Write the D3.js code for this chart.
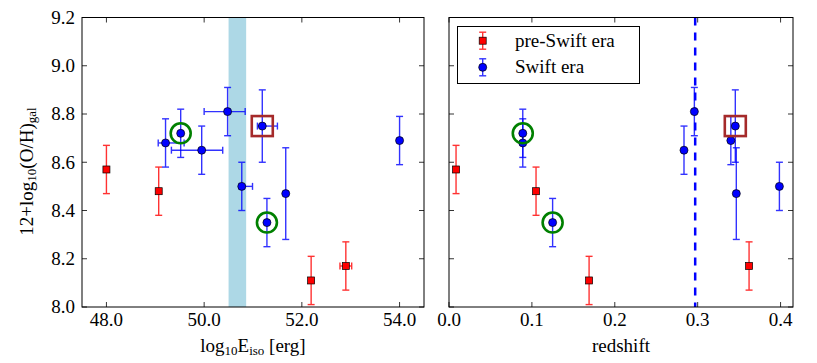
<!DOCTYPE html>
<html>
<head>
<meta charset="utf-8">
<script src="https://cdn.jsdelivr.net/npm/d3@7"></script>
<style>
  body { margin: 0; background: #fff; }
</style>
</head>
<body>
<svg id="chart" width="817" height="363" font-family="'Liberation Serif', serif"></svg>
<script>
// pre-Swift era GRBs
var preEiso = [48.0, 49.07, 52.19, 52.9];
var preEisoErr = [0, 0, 0, 0.12];
var preZ = [0.0085, 0.105, 0.169, 0.362];
var preOH = [8.57, 8.48, 8.11, 8.17];
var preOHErr = [0.1, 0.1, 0.1, 0.1];

// Swift era GRBs
var swEiso = [49.21, 49.52, 49.95, 50.48, 50.77, 51.19, 51.285, 51.67, 54.0];
var swEisoLo = [0.15, 0, 0.62, 0.48, 0.05, 0.1, 0, 0, 0];
var swEisoHi = [0.38, 0, 0.43, 0.36, 0.22, 0.31, 0, 0, 0];
var swZ = [0.089, 0.089, 0.2835, 0.296, 0.3986, 0.3454, 0.125, 0.3466, 0.340];
var swOH = [8.68, 8.72, 8.65, 8.81, 8.50, 8.75, 8.35, 8.47, 8.69];
var swOHErr = [0.1, 0.1, 0.1, 0.1, 0.1, 0.15, 0.1, 0.19, 0.1];

// highlighted points (index into Swift arrays)
var greenIdx = [1, 6];
var brownIdx = [5];

var band = [50.5, 50.86];   // shaded Eiso range
var zLine = 0.297;          // dashed redshift line

var yTicks = [8.0, 8.2, 8.4, 8.6, 8.8, 9.0, 9.2];
var eTicks = [48.0, 50.0, 52.0, 54.0];
var zTicks = [0.0, 0.1, 0.2, 0.3, 0.4];

var svg = d3.select("#chart");
var plotTop = 17.5, plotBottom = 307;
var fs = 19, fsSub = 13;

var y = d3.scaleLinear().domain([8.0, 9.2]).range([plotBottom, plotTop]);
var xE = d3.scaleLinear().domain([47.5, 54.5]).range([82, 424]);
var xZ = d3.scaleLinear().domain([0, 0.415]).range([449, 793]);

function errY(g, x, yv, e, col) {
  var a = g.append("g").attr("stroke", col).attr("stroke-width", 1.4).attr("opacity", 0.8);
  a.append("line").attr("x1", x).attr("x2", x).attr("y1", y(yv - e)).attr("y2", y(yv + e));
  [yv - e, yv + e].forEach(function (v) {
    a.append("line").attr("x1", x - 3.5).attr("x2", x + 3.5).attr("y1", y(v)).attr("y2", y(v));
  });
}

function errX(g, xs, xv, lo, hi, yy, col) {
  if (!lo && !hi) return;
  var a = g.append("g").attr("stroke", col).attr("stroke-width", 1.4).attr("opacity", 0.8);
  a.append("line").attr("x1", xs(xv - lo)).attr("x2", xs(xv + hi)).attr("y1", yy).attr("y2", yy);
  [xv - lo, xv + hi].forEach(function (v) {
    a.append("line").attr("x1", xs(v)).attr("x2", xs(v)).attr("y1", yy - 3.5).attr("y2", yy + 3.5);
  });
}

function drawPanel(xs, ticks, fmt, preX, swX, useXErr, showYLabels) {
  var g = svg.append("g");
  var x0 = xs.range()[0], x1 = xs.range()[1];

  if (useXErr) {
    g.append("rect")
      .attr("x", xs(band[0])).attr("y", plotTop)
      .attr("width", xs(band[1]) - xs(band[0])).attr("height", plotBottom - plotTop)
      .attr("fill", "#add8e6");
  } else {
    g.append("line")
      .attr("x1", xs(zLine)).attr("x2", xs(zLine)).attr("y1", plotTop).attr("y2", plotBottom)
      .attr("stroke", "blue").attr("stroke-width", 2.5).attr("stroke-dasharray", "8,7");
  }

  // error bars
  preX.forEach(function (v, i) {
    errY(g, xs(v), preOH[i], preOHErr[i], "red");
    if (useXErr) errX(g, xs, v, preEisoErr[i], preEisoErr[i], y(preOH[i]), "red");
  });
  swX.forEach(function (v, i) {
    errY(g, xs(v), swOH[i], swOHErr[i], "blue");
    if (useXErr) errX(g, xs, v, swEisoLo[i], swEisoHi[i], y(swOH[i]), "blue");
  });

  // markers
  g.selectAll(".pre").data(preX).enter().append("rect")
    .attr("x", function (d) { return xs(d) - 3.5; })
    .attr("y", function (d, i) { return y(preOH[i]) - 3.5; })
    .attr("width", 7).attr("height", 7)
    .attr("fill", "red").attr("stroke", "#000").attr("stroke-width", 0.7);
  g.selectAll(".sw").data(swX).enter().append("circle")
    .attr("cx", function (d) { return xs(d); })
    .attr("cy", function (d, i) { return y(swOH[i]); })
    .attr("r", 4)
    .attr("fill", "blue").attr("stroke", "#000").attr("stroke-width", 0.7);

  // highlights
  greenIdx.forEach(function (i) {
    g.append("circle").attr("cx", xs(swX[i])).attr("cy", y(swOH[i])).attr("r", 10)
      .attr("fill", "none").attr("stroke", "green").attr("stroke-width", 2.6);
  });
  brownIdx.forEach(function (i) {
    g.append("rect").attr("x", xs(swX[i]) - 10.5).attr("y", y(swOH[i]) - 10)
      .attr("width", 21).attr("height", 20)
      .attr("fill", "none").attr("stroke", "#a52a2a").attr("stroke-width", 2.6);
  });

  // frame
  g.append("rect").attr("x", x0).attr("y", plotTop).attr("width", x1 - x0).attr("height", plotBottom - plotTop)
    .attr("fill", "none").attr("stroke", "#000").attr("stroke-width", 1);

  // inward ticks on all sides
  var tk = g.append("g").attr("stroke", "#000").attr("stroke-width", 0.8);
  ticks.forEach(function (t) {
    tk.append("line").attr("x1", xs(t)).attr("x2", xs(t)).attr("y1", plotBottom).attr("y2", plotBottom - 5);
    tk.append("line").attr("x1", xs(t)).attr("x2", xs(t)).attr("y1", plotTop).attr("y2", plotTop + 5);
  });
  yTicks.forEach(function (t) {
    tk.append("line").attr("x1", x0).attr("x2", x0 + 5).attr("y1", y(t)).attr("y2", y(t));
    tk.append("line").attr("x1", x1).attr("x2", x1 - 5).attr("y1", y(t)).attr("y2", y(t));
  });

  g.selectAll(".xl").data(ticks).enter().append("text")
    .attr("x", function (d) { return xs(d); })
    .attr("y", 326)
    .attr("text-anchor", "middle").attr("font-size", fs)
    .text(fmt);

  if (showYLabels) {
    g.selectAll(".yl").data(yTicks).enter().append("text")
      .attr("x", 75).attr("y", function (d) { return y(d) + 6.3; })
      .attr("text-anchor", "end").attr("font-size", fs)
      .text(d3.format(".1f"));
  }
  return g;
}

drawPanel(xE, eTicks, d3.format(".1f"), preEiso, swEiso, true, true);
drawPanel(xZ, zTicks, d3.format(".1f"), preZ, swZ, false, false);

// axis labels
var xl = svg.append("text").attr("x", 253).attr("y", 351.5).attr("text-anchor", "middle").attr("font-size", fs);
xl.append("tspan").text("log");
xl.append("tspan").attr("font-size", fsSub).attr("dy", 3).text("10");
xl.append("tspan").attr("dy", -3).text("E");
xl.append("tspan").attr("font-size", fsSub).attr("dy", 3).text("iso");
xl.append("tspan").attr("dy", -3).text(" [erg]");

svg.append("text").attr("x", 621).attr("y", 351.5).attr("text-anchor", "middle")
  .attr("font-size", fs).text("redshift");

var yl = svg.append("text").attr("transform", "translate(33,171.5) rotate(-90)")
  .attr("text-anchor", "middle").attr("font-size", fs);
yl.append("tspan").text("12+log");
yl.append("tspan").attr("font-size", fsSub).attr("dy", 3).text("10");
yl.append("tspan").attr("dy", -3).text("(O/H)");
yl.append("tspan").attr("font-size", fsSub).attr("dy", 3).text("gal");

// legend
var lg = svg.append("g");
lg.append("rect").attr("x", 457.5).attr("y", 26.5).attr("width", 182).attr("height", 57)
  .attr("fill", "#fff").attr("stroke", "#000").attr("stroke-width", 1);
var legItems = ["pre-Swift era", "Swift era"];
var legCols = ["red", "blue"];
legItems.forEach(function (name, i) {
  var cy = 40.7 + i * 26.6, cx = 482.7;
  var a = lg.append("g").attr("stroke", legCols[i]).attr("stroke-width", 1.4).attr("opacity", 0.8);
  a.append("line").attr("x1", cx).attr("x2", cx).attr("y1", cy - 8.5).attr("y2", cy + 8.5);
  a.append("line").attr("x1", cx - 3.5).attr("x2", cx + 3.5).attr("y1", cy - 8.5).attr("y2", cy - 8.5);
  a.append("line").attr("x1", cx - 3.5).attr("x2", cx + 3.5).attr("y1", cy + 8.5).attr("y2", cy + 8.5);
  if (i == 0) {
    lg.append("rect").attr("x", cx - 3.5).attr("y", cy - 3.5).attr("width", 7).attr("height", 7)
      .attr("fill", "red").attr("stroke", "#000").attr("stroke-width", 0.7);
  } else {
    lg.append("circle").attr("cx", cx).attr("cy", cy).attr("r", 4)
      .attr("fill", "blue").attr("stroke", "#000").attr("stroke-width", 0.7);
  }
  lg.append("text").attr("x", 515).attr("y", cy + 6).attr("font-size", fs).text(name);
});
</script>
</body>
</html>
